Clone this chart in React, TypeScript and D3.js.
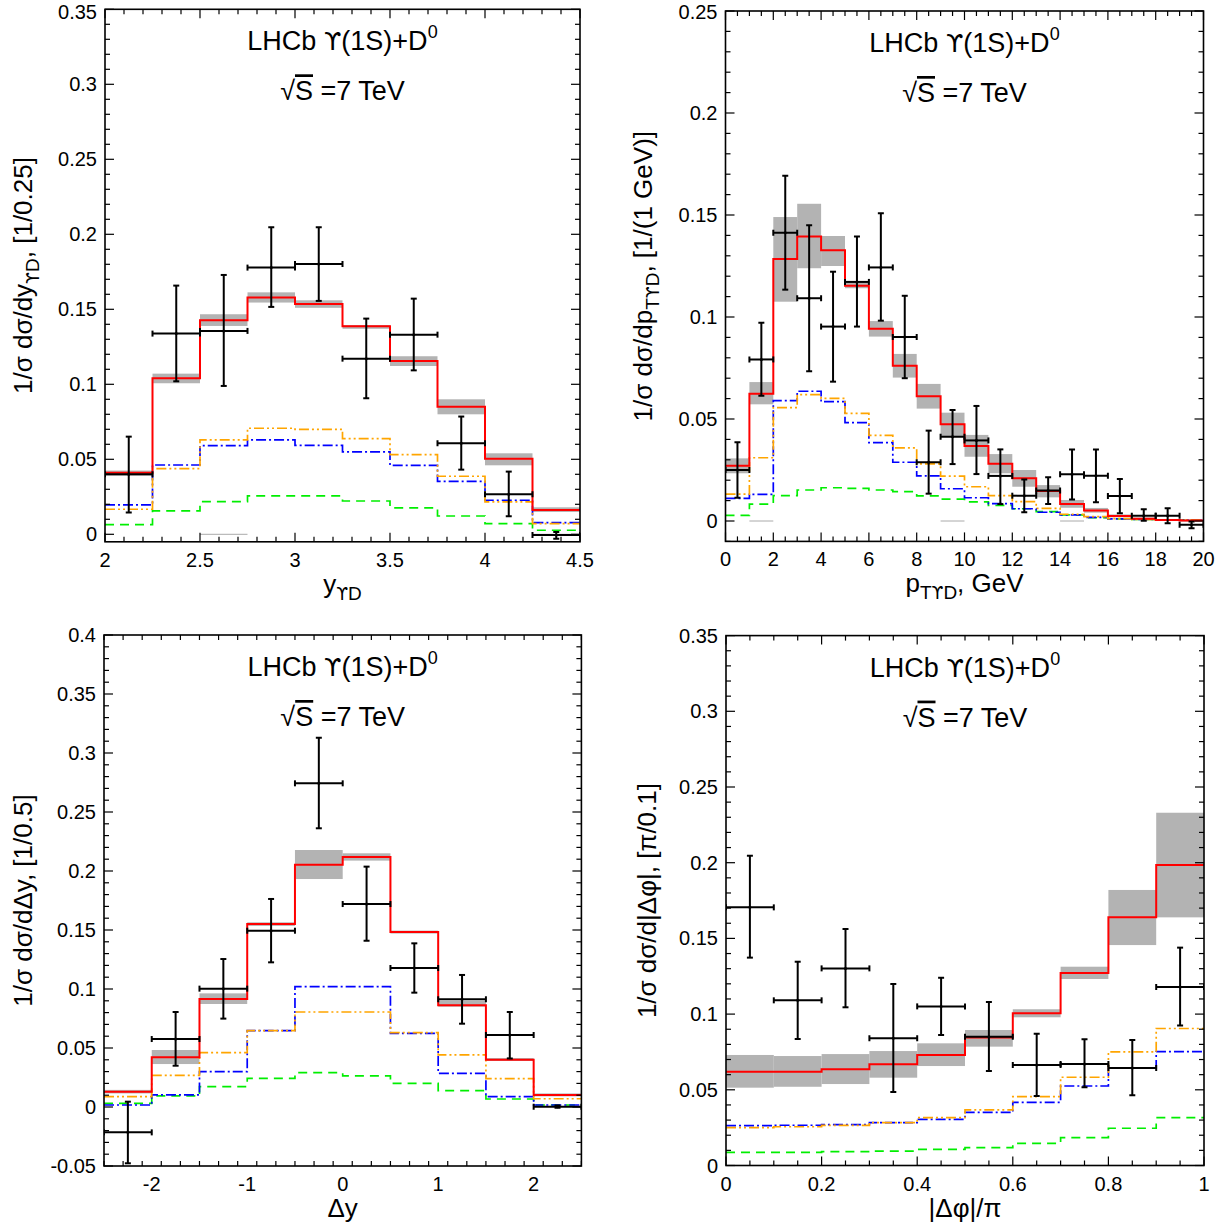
import * as React from 'react';
import * as d3 from 'd3';

const FONT = '"Liberation Sans", Arial, Helvetica, sans-serif';
const SYMFONT = '"DejaVu Sans", "Liberation Sans", sans-serif';

// top-left: rapidity of the Upsilon+D system
const tlEdges = [2, 2.25, 2.5, 2.75, 3, 3.25, 3.5, 3.75, 4, 4.25, 4.5];
const tlRed = [0.041, 0.104, 0.1427, 0.1578, 0.1536, 0.1387, 0.1156, 0.0851, 0.0504, 0.0162];
const tlBandLo = [0.039, 0.1007, 0.1389, 0.1545, 0.151, 0.137, 0.1122, 0.08, 0.046, 0.0149];
const tlBandHi = [0.0425, 0.1071, 0.1467, 0.1613, 0.156, 0.1395, 0.1187, 0.09, 0.054, 0.018];
const tlOrange = [0.0167, 0.0438, 0.0629, 0.0707, 0.07, 0.0638, 0.0531, 0.0387, 0.0216, 0.0071];
const tlBlue = [0.0196, 0.0462, 0.0591, 0.0629, 0.0593, 0.0549, 0.046, 0.0353, 0.0227, 0.0078];
const tlGreen = [0.0064, 0.0156, 0.0218, 0.0256, 0.0256, 0.0222, 0.0176, 0.0122, 0.0071, 0.0027];
const tlData = [0.04, 0.1338, 0.1356, 0.1778, 0.1802, 0.1171, 0.1331, 0.0607, 0.0267, -0.0005];
const tlErrHi = [0.0651, 0.1658, 0.1729, 0.2047, 0.2047, 0.1438, 0.1571, 0.0785, 0.0418, 0.0015];
const tlErrLo = [0.0145, 0.102, 0.0989, 0.1516, 0.1556, 0.0907, 0.1093, 0.0431, 0.012, -0.003];
const tlZeroBins = [2, 9];
const tlXTicks = [2, 2.5, 3, 3.5, 4, 4.5];
const tlYTicks = [0, 0.05, 0.1, 0.15, 0.2, 0.25, 0.3, 0.35];

// top-right: transverse momentum of the pair
const trEdges = d3.range(0, 21);
const trRed = [0.0271, 0.0624, 0.1284, 0.1394, 0.1327, 0.1153, 0.0943, 0.0761, 0.0611, 0.0474, 0.0368, 0.0281, 0.0209, 0.0147, 0.0083, 0.0051, 0.0025, 0.0011, 0.0005, 0.0002];
const trBandLo = [0.0234, 0.0572, 0.1075, 0.1239, 0.125, 0.1141, 0.0904, 0.0703, 0.0551, 0.0413, 0.0315, 0.0234, 0.0168, 0.0116, 0.0065, 0.0041, 0.0018, 0.0005, 0.0, -0.0003];
const trBandHi = [0.0307, 0.0681, 0.149, 0.1555, 0.1397, 0.1172, 0.098, 0.0819, 0.0672, 0.0531, 0.0422, 0.0328, 0.025, 0.0176, 0.0103, 0.0064, 0.0032, 0.0017, 0.001, 0.0007];
const trOrange = [0.0132, 0.031, 0.0556, 0.0619, 0.0601, 0.0528, 0.042, 0.0358, 0.028, 0.022, 0.0168, 0.0124, 0.0095, 0.0062, 0.0033, 0.0021, 0.0012, 0.0008, 0.0006, 0.0004];
const trBlue = [0.0111, 0.0131, 0.059, 0.0636, 0.0585, 0.0482, 0.0384, 0.0288, 0.0221, 0.0158, 0.0114, 0.0085, 0.006, 0.0043, 0.003, 0.0018, 0.001, 0.0008, 0.0006, 0.0005];
const trGreen = [0.0028, 0.0083, 0.0124, 0.0152, 0.0163, 0.016, 0.0152, 0.0144, 0.0123, 0.0107, 0.0094, 0.0077, 0.006, 0.0046, 0.003, 0.0016, 0.001, 0.0008, 0.0006, 0.0005];
const trData = [0.025, 0.0792, 0.1413, 0.1092, 0.0953, 0.1172, 0.1243, 0.0902, 0.0288, 0.0413, 0.0395, 0.0221, 0.0124, 0.015, 0.0229, 0.0222, 0.0123, 0.0026, 0.0026, -0.0018];
const trErrHi = [0.0386, 0.0972, 0.1693, 0.145, 0.1222, 0.1394, 0.1508, 0.1104, 0.0443, 0.0544, 0.0564, 0.0351, 0.0204, 0.0214, 0.0351, 0.0351, 0.0206, 0.0057, 0.0062, -0.0003];
const trErrLo = [0.0114, 0.0614, 0.1134, 0.0734, 0.0683, 0.0953, 0.0982, 0.07, 0.0134, 0.0279, 0.023, 0.0083, 0.0043, 0.0083, 0.0106, 0.0092, 0.0038, 0.0001, -0.0011, -0.0036];
const trZeroBins = [1, 9, 14];
const trXTicks = [0, 2, 4, 6, 8, 10, 12, 14, 16, 18, 20];
const trYTicks = [0, 0.05, 0.1, 0.15, 0.2, 0.25];

// bottom-left: rapidity difference
const blEdges = [-2.5, -2, -1.5, -1, -0.5, 0, 0.5, 1, 1.5, 2, 2.5];
const blRed = [0.013, 0.0421, 0.0915, 0.1551, 0.2054, 0.2119, 0.1483, 0.0862, 0.0401, 0.0102];
const blBandLo = [0.0115, 0.0364, 0.0873, 0.1535, 0.1932, 0.2088, 0.147, 0.085, 0.039, 0.009];
const blBandHi = [0.0145, 0.0483, 0.0963, 0.1565, 0.2178, 0.215, 0.1495, 0.09, 0.0415, 0.0115];
const blOrange = [0.0088, 0.0268, 0.046, 0.0647, 0.0805, 0.0805, 0.063, 0.0441, 0.024, 0.007];
const blBlue = [0.0017, 0.0102, 0.0299, 0.0647, 0.102, 0.102, 0.0624, 0.0285, 0.0088, 0.0017];
const blGreen = [0.003, 0.0095, 0.0172, 0.0243, 0.0291, 0.0263, 0.0201, 0.0138, 0.0068, 0.0017];
const blData = [-0.0215, 0.0576, 0.1003, 0.1494, 0.2743, 0.172, 0.1178, 0.0913, 0.061, 0.0003];
const blErrHi = [0.0045, 0.0805, 0.1254, 0.1763, 0.313, 0.2037, 0.1387, 0.1119, 0.0805, 0.0013];
const blErrLo = [-0.0477, 0.035, 0.0749, 0.1226, 0.2362, 0.1409, 0.0969, 0.0706, 0.0412, -0.0007];
const blXTicks = [-2, -1, 0, 1, 2];
const blYTicks = [-0.05, 0, 0.05, 0.1, 0.15, 0.2, 0.25, 0.3, 0.35, 0.4];

// bottom-right: azimuthal angle difference
const brEdges = [0, 0.1, 0.2, 0.3, 0.4, 0.5, 0.6, 0.7, 0.8, 0.9, 1];
const brRed = [0.062, 0.062, 0.0635, 0.0668, 0.073, 0.0845, 0.1005, 0.1271, 0.1639, 0.1985];
const brBandLo = [0.0514, 0.052, 0.0538, 0.058, 0.0657, 0.0785, 0.0979, 0.1232, 0.1456, 0.1639];
const brBandHi = [0.073, 0.0723, 0.0736, 0.0756, 0.0807, 0.0895, 0.1032, 0.1313, 0.182, 0.233];
const brOrange = [0.025, 0.0256, 0.0265, 0.0283, 0.0316, 0.0367, 0.0455, 0.0583, 0.075, 0.0905];
const brBlue = [0.0263, 0.0266, 0.027, 0.0283, 0.0305, 0.0351, 0.0417, 0.0525, 0.0644, 0.0752];
const brGreen = [0.0087, 0.0087, 0.0091, 0.0095, 0.0107, 0.0118, 0.0146, 0.0184, 0.0246, 0.0316];
const brData = [0.1705, 0.1091, 0.1302, 0.084, 0.1051, 0.0851, 0.0664, 0.067, 0.0644, 0.1179];
const brErrHi = [0.2046, 0.1346, 0.1562, 0.1199, 0.124, 0.108, 0.0871, 0.0834, 0.0829, 0.1439];
const brErrLo = [0.1373, 0.0836, 0.1045, 0.0485, 0.0862, 0.0624, 0.0459, 0.0517, 0.0464, 0.0924];
const brXTicks = [0, 0.2, 0.4, 0.6, 0.8, 1];
const brYTicks = [0, 0.05, 0.1, 0.15, 0.2, 0.25, 0.3, 0.35];

const UPS = '\u03D2';
const ups = (size?: number) => <tspan fontFamily={SYMFONT} fontSize={size}>{UPS}</tspan>;

type PanelProps = {
  id: string;
  left: number; right: number; top: number; bottom: number;
  xDomain: [number, number]; yDomain: [number, number];
  xMinor: number; yMinor: number;
  xTicks: number[]; yTicks: number[];
  edges: number[];
  red: number[]; bandLo: number[]; bandHi: number[];
  orange: number[]; blue: number[]; green: number[];
  data: number[]; errHi: number[]; errLo: number[];
  zeroBins?: number[];
  xLabel: React.ReactNode; yLabel: React.ReactNode; yLabelX: number;
};

function Panel(p: PanelProps) {
  const x = d3.scaleLinear().domain(p.xDomain).range([p.left, p.right]);
  const y = d3.scaleLinear().domain(p.yDomain).range([p.bottom, p.top]);
  const n = p.red.length;
  const line = d3.line<[number, number]>().curve(d3.curveStepAfter);
  const step = (vals: number[]) => {
    const pts: [number, number][] = vals.map((v, i) => [x(p.edges[i]), y(v)]);
    pts.push([x(p.edges[n]), y(vals[n - 1])]);
    return line(pts) || '';
  };
  const eps = 1e-9;
  const xMinors = d3.range(p.xDomain[0], p.xDomain[1] + eps, p.xMinor);
  const yStart = Math.ceil(p.yDomain[0] / p.yMinor - eps) * p.yMinor;
  const yMinors = d3.range(yStart, p.yDomain[1] + eps, p.yMinor);
  const isMajor = (v: number, arr: number[]) => arr.some(t => Math.abs(t - v) < 1e-6);
  const fmt = (v: number) => String(+v.toFixed(2));
  const cx = (p.left + p.right) / 2;
  const clip = `clip-${p.id}`;
  const titleY = p.top + 41;

  return (
    <g>
      <defs>
        <clipPath id={clip}>
          <rect x={p.left} y={p.top} width={p.right - p.left} height={p.bottom - p.top} />
        </clipPath>
      </defs>
      <g clipPath={`url(#${clip})`}>
        {p.red.map((_, i) => (
          <rect key={'b' + i} x={x(p.edges[i])} width={x(p.edges[i + 1]) - x(p.edges[i])}
            y={y(p.bandHi[i])} height={Math.max(1, y(p.bandLo[i]) - y(p.bandHi[i]))} fill="#b3b3b3" />
        ))}
        {(p.zeroBins || []).map(i => (
          <line key={'z' + i} x1={x(p.edges[i])} x2={x(p.edges[i + 1])} y1={y(0)} y2={y(0)} stroke="#aaaaaa" strokeWidth={1} />
        ))}
        <path d={step(p.green)} fill="none" stroke="#00ee00" strokeWidth={1.7} strokeDasharray="9,6" />
        <path d={step(p.blue)} fill="none" stroke="#0000ff" strokeWidth={1.7} strokeDasharray="10,3,2,3" />
        <path d={step(p.orange)} fill="none" stroke="#ffa500" strokeWidth={1.7} strokeDasharray="10,3,2,3,2,3" />
        <path d={step(p.red)} fill="none" stroke="#ff0000" strokeWidth={2} />
        {p.data.map((v, i) => {
          const x0 = x(p.edges[i]);
          const x1 = x(p.edges[i + 1]);
          const xm = (x0 + x1) / 2;
          const yh = y(p.errHi[i]);
          const yl = y(p.errLo[i]);
          const yc = y(v);
          return (
            <g key={'d' + i} stroke="#000" strokeWidth={2} fill="none">
              <line x1={x0} x2={x1} y1={yc} y2={yc} />
              <line x1={xm} x2={xm} y1={yh} y2={yl} />
              <line x1={x0} x2={x0} y1={yc - 3} y2={yc + 3} />
              <line x1={x1} x2={x1} y1={yc - 3} y2={yc + 3} />
              <line x1={xm - 3} x2={xm + 3} y1={yh} y2={yh} />
              <line x1={xm - 3} x2={xm + 3} y1={yl} y2={yl} />
              <circle cx={xm} cy={yc} r={1.5} fill="#000" stroke="none" />
            </g>
          );
        })}
      </g>
      <g stroke="#000" strokeWidth={1.2}>
        {xMinors.map((v, i) => {
          const len = isMajor(v, p.xTicks) ? 9 : 5;
          return (
            <g key={'xt' + i}>
              <line x1={x(v)} x2={x(v)} y1={p.bottom} y2={p.bottom - len} />
              <line x1={x(v)} x2={x(v)} y1={p.top} y2={p.top + len} />
            </g>
          );
        })}
        {yMinors.map((v, i) => {
          const len = isMajor(v, p.yTicks) ? 9 : 5;
          return (
            <g key={'yt' + i}>
              <line x1={p.left} x2={p.left + len} y1={y(v)} y2={y(v)} />
              <line x1={p.right} x2={p.right - len} y1={y(v)} y2={y(v)} />
            </g>
          );
        })}
      </g>
      <rect x={p.left} y={p.top} width={p.right - p.left} height={p.bottom - p.top} fill="none" stroke="#000" strokeWidth={1.6} />
      <g fontFamily={FONT} fontSize={20} fill="#000">
        {p.yTicks.map((v, i) => (
          <text key={'yl' + i} x={p.left - 8} y={Math.max(y(v), 12)} dy="0.35em" textAnchor="end">{fmt(v)}</text>
        ))}
        {p.xTicks.map((v, i) => (
          <text key={'xl' + i} x={x(v)} y={p.bottom + 25} textAnchor="middle">{fmt(v)}</text>
        ))}
      </g>
      <g fontFamily={FONT} fill="#000">
        <text x={cx} y={titleY} textAnchor="middle" fontSize={27}>
          LHCb {ups(25)}(1S)+D<tspan dy={-12} fontSize={18}>0</tspan>
        </text>
        <text x={cx} y={titleY + 50} textAnchor="middle" fontSize={27}>
          √<tspan textDecoration="overline">S</tspan> =7 TeV
        </text>
        <text x={cx} y={p.bottom + 51} textAnchor="middle" fontSize={26}>{p.xLabel}</text>
        <text transform={`translate(${p.yLabelX},${(p.top + p.bottom) / 2}) rotate(-90)`} textAnchor="middle" fontSize={26}>{p.yLabel}</text>
      </g>
    </g>
  );
}

export default function App() {
  return (
    <svg width={1231} height={1228} style={{ position: 'absolute', left: 0, top: 0, background: '#fff' }}>
      <rect width={1231} height={1228} fill="#fff" />
      <Panel id="tl" left={105} right={580} top={9.3} bottom={541.8}
        xDomain={[2, 4.5]} yDomain={[-0.005, 0.35]} xMinor={0.1} yMinor={0.01}
        xTicks={tlXTicks} yTicks={tlYTicks} edges={tlEdges}
        red={tlRed} bandLo={tlBandLo} bandHi={tlBandHi} orange={tlOrange} blue={tlBlue} green={tlGreen}
        data={tlData} errHi={tlErrHi} errLo={tlErrLo} zeroBins={tlZeroBins}
        xLabel={<>y<tspan dy={7} fontSize={19}>{ups(17)}D</tspan></>}
        yLabel={<>1/σ dσ/dy<tspan dy={7} fontSize={19}>{ups(17)}D</tspan><tspan dy={-7}>, [1/0.25]</tspan></>}
        yLabelX={32} />
      <Panel id="tr" left={725.5} right={1203.5} top={11} bottom={541.4}
        xDomain={[0, 20]} yDomain={[-0.01, 0.25]} xMinor={0.5} yMinor={0.01}
        xTicks={trXTicks} yTicks={trYTicks} edges={trEdges}
        red={trRed} bandLo={trBandLo} bandHi={trBandHi} orange={trOrange} blue={trBlue} green={trGreen}
        data={trData} errHi={trErrHi} errLo={trErrLo} zeroBins={trZeroBins}
        xLabel={<>p<tspan dy={7} fontSize={19}>T{ups(17)}D</tspan><tspan dy={-7}>, GeV</tspan></>}
        yLabel={<>1/σ dσ/dp<tspan dy={7} fontSize={19}>T{ups(17)}D</tspan><tspan dy={-7}>, [1/(1 GeV)]</tspan></>}
        yLabelX={652} />
      <Panel id="bl" left={104} right={581.4} top={635} bottom={1166}
        xDomain={[-2.5, 2.5]} yDomain={[-0.05, 0.4]} xMinor={0.2} yMinor={0.01}
        xTicks={blXTicks} yTicks={blYTicks} edges={blEdges}
        red={blRed} bandLo={blBandLo} bandHi={blBandHi} orange={blOrange} blue={blBlue} green={blGreen}
        data={blData} errHi={blErrHi} errLo={blErrLo}
        xLabel={<>Δy</>}
        yLabel={<>1/σ dσ/dΔy, [1/0.5]</>} yLabelX={32} />
      <Panel id="br" left={726} right={1204} top={635.6} bottom={1165.5}
        xDomain={[0, 1]} yDomain={[0, 0.35]} xMinor={0.05} yMinor={0.01}
        xTicks={brXTicks} yTicks={brYTicks} edges={brEdges}
        red={brRed} bandLo={brBandLo} bandHi={brBandHi} orange={brOrange} blue={brBlue} green={brGreen}
        data={brData} errHi={brErrHi} errLo={brErrLo}
        xLabel={<>|Δφ|/π</>}
        yLabel={<>1/σ dσ/d|Δφ|, [π/0.1]</>} yLabelX={656} />
    </svg>
  );
}
